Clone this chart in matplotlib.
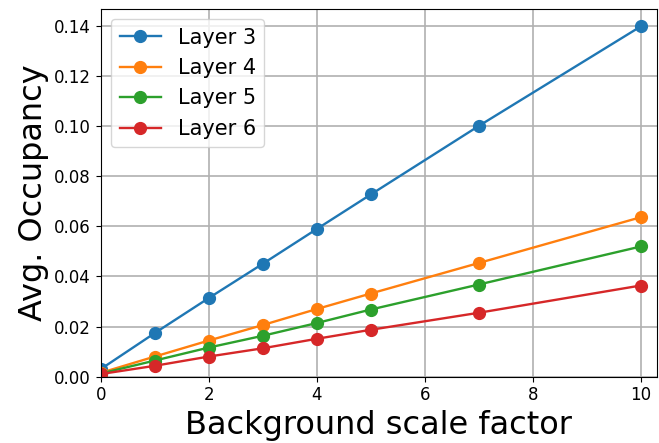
import matplotlib
matplotlib.use("Agg")
import matplotlib.pyplot as plt

scale = [0, 1, 2, 3, 4, 5, 7, 10]
layer3 = [0.003, 0.0174, 0.0314, 0.0451, 0.0590, 0.0728, 0.1002, 0.1400]
layer4 = [0.0015, 0.0080, 0.0144, 0.0206, 0.0270, 0.0332, 0.0454, 0.0637]
layer5 = [0.0012, 0.0064, 0.0116, 0.0163, 0.0214, 0.0268, 0.0368, 0.0520]
layer6 = [0.0010, 0.0043, 0.0080, 0.0113, 0.0151, 0.0187, 0.0255, 0.0364]
labels = ["Layer 3", "Layer 4", "Layer 5", "Layer 6"]

fig, ax = plt.subplots(figsize=(6.59, 4.43), dpi=100)
for vals, lab in zip([layer3, layer4, layer5, layer6], labels):
    ax.plot(scale, vals, marker="o", markersize=8.5, linewidth=1.7, label=lab)

ax.set_xlim(0, 10.3)
ax.set_ylim(0, 0.147)
ax.grid(True, color="#b0b0b0", linewidth=1.2)
ax.tick_params(labelsize=12)
ax.set_xlabel("Background scale factor", fontsize=23)
ax.set_ylabel("Avg. Occupancy", fontsize=23)
ax.legend(fontsize=15, loc="upper left")

fig.subplots_adjust(left=0.153, right=0.997, top=0.98, bottom=0.15)
fig.savefig("out.png", dpi=100)
